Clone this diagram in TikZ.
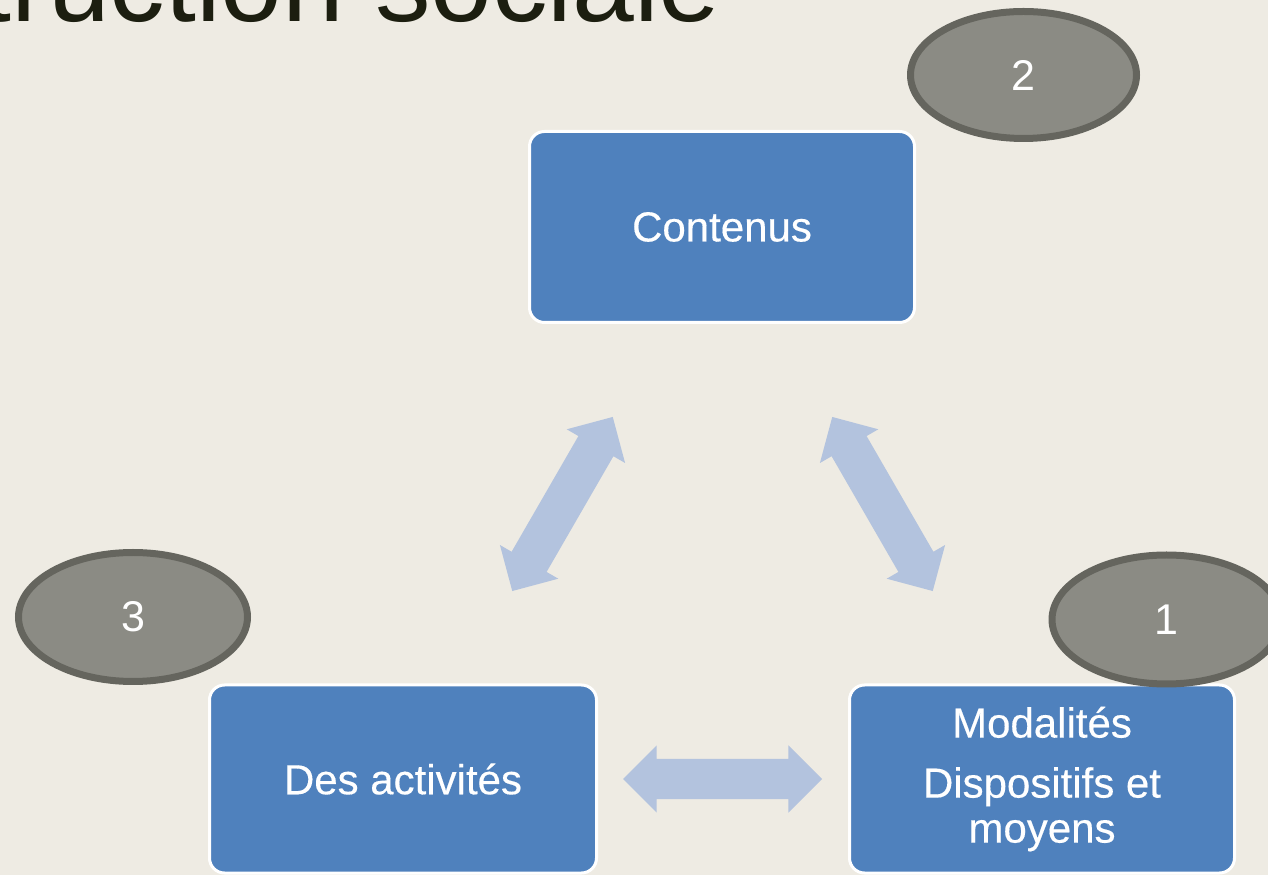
\documentclass[tikz,border=0pt]{standalone}
\usepackage{fontspec}
\setmainfont{Liberation Sans}
\newfontfamily\boxfont[FakeBold=0.3]{Liberation Sans}
\usetikzlibrary{shapes.arrows,shapes.geometric}
\definecolor{bgcol}{HTML}{EEEBE3}
\definecolor{titlecol}{HTML}{1C1E10}
\definecolor{boxcol}{HTML}{4F81BD}
\definecolor{arrcol}{HTML}{B3C3DE}
\definecolor{ellfill}{HTML}{8B8B84}
\definecolor{elldraw}{HTML}{65655E}
\tikzset{
  stepbox/.style={draw=white, line width=3pt, fill=boxcol, rounded corners=15pt,
    text=white, font=\boxfont\fontsize{42}{45}\selectfont, align=center, inner sep=0pt},
  numell/.style={ellipse, draw=elldraw, line width=7pt, fill=ellfill, text=white,
    font=\fontsize{43}{43}\selectfont, inner sep=0pt},
  dblarr/.style={double arrow, fill=arrcol, draw=none, inner xsep=0pt, inner ysep=20pt,
    double arrow head extend=13.5pt, double arrow tip angle=90}
}
\begin{document}
\begin{tikzpicture}[x=1pt,y=1pt]
\useasboundingbox (0,0) rectangle (1268,875);
\fill[bgcol] (0,0) rectangle (1268,875);
\node[anchor=base east, text=titlecol, font=\fontsize{111}{111}\selectfont, inner sep=0pt] (title) at (721,853) {truction sociale};
% boxes
\node[stepbox, minimum width=385pt, minimum height=191pt] (cont) at (722,648) {Contenus};
\node[stepbox, minimum width=387pt, minimum height=188pt] (act) at (403,96) {Des activités};
\node[stepbox, minimum width=385pt, minimum height=188pt] (mod) at (1042,96) {Modalités\\[15pt]Dispositifs et\\moyens};
% ellipses
\node[numell, minimum width=226pt, minimum height=127pt] (n2) at (1023.5,800) {2};
\node[numell, minimum width=229pt, minimum height=129pt] (n3) at (133,258) {3};
\node[numell, minimum width=229pt, minimum height=129pt] (n1) at (1166.5,255.5) {1};
% arrows
\node[dblarr, minimum height=199pt] (a13) at (722.5,96) {};
\node[dblarr, minimum height=201pt, rotate=60] (a23) at (562.5,371) {};
\node[dblarr, minimum height=201pt, rotate=-60] (a12) at (882.5,371) {};
\end{tikzpicture}
\end{document}
